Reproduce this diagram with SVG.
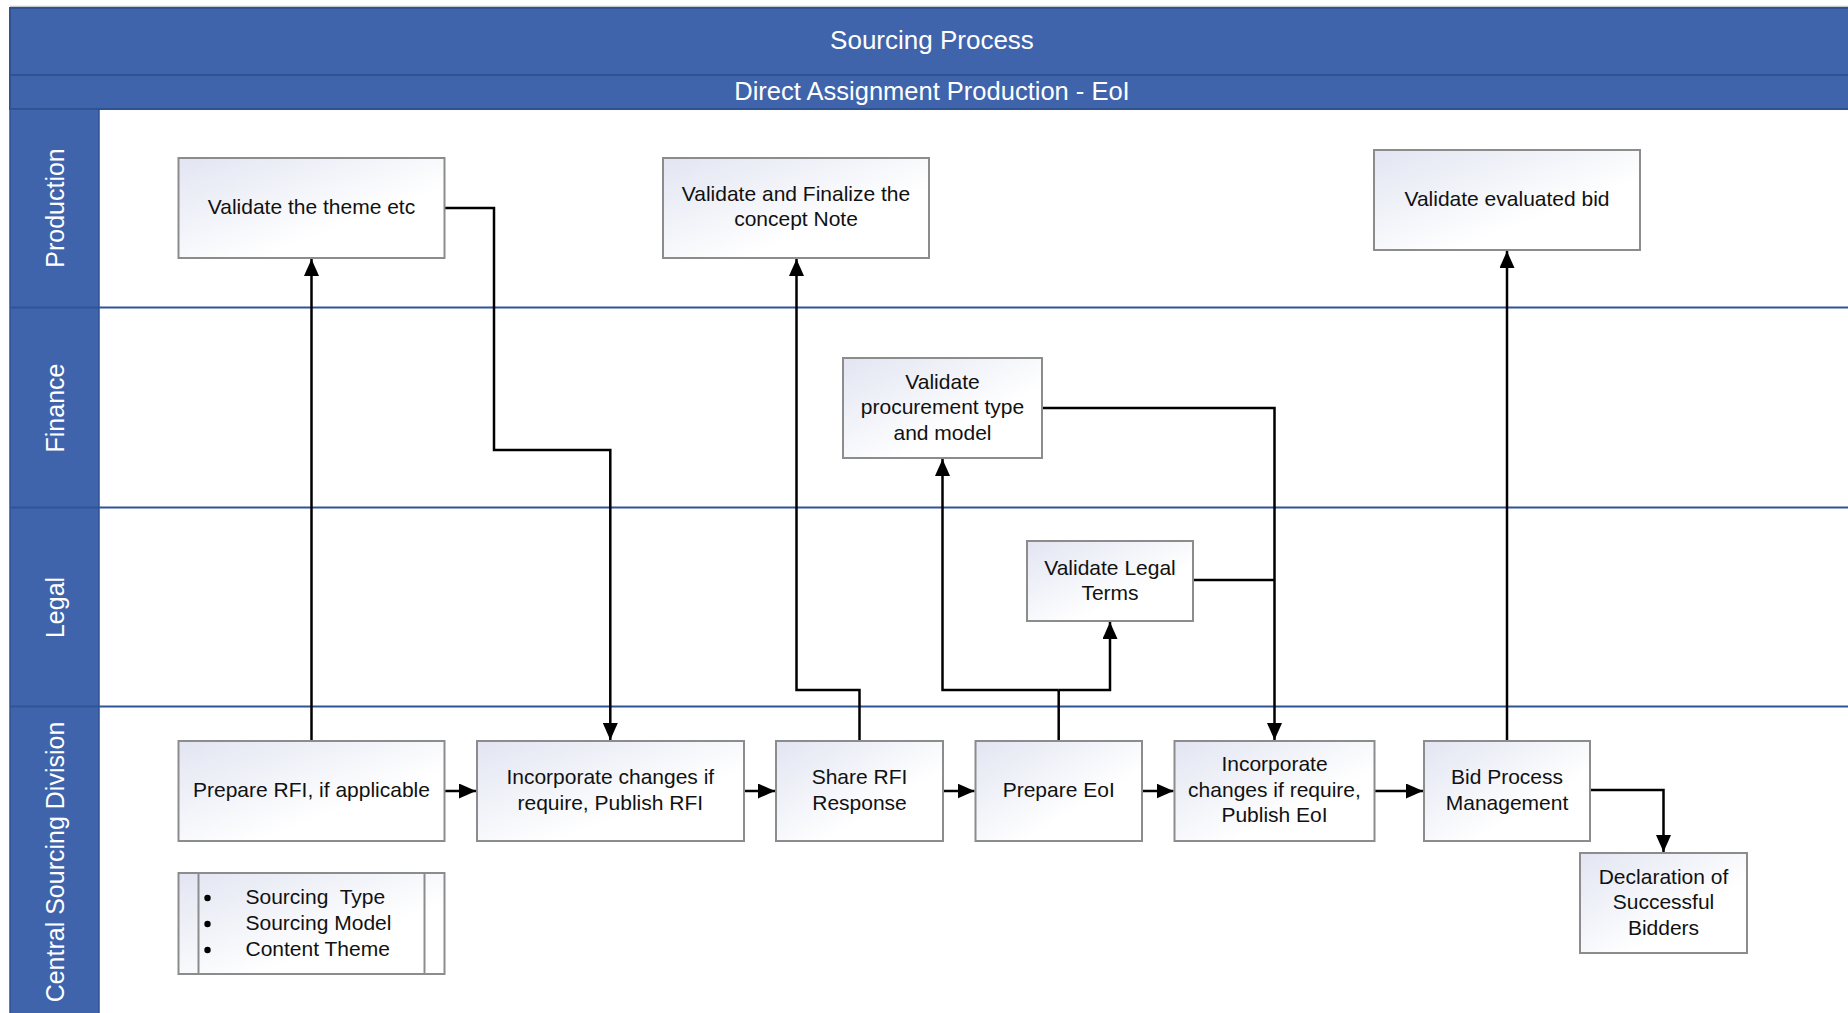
<svg xmlns="http://www.w3.org/2000/svg" width="1848" height="1013" viewBox="0 0 1848 1013">
  <style>
    .band { fill: #3F64AC; stroke: #2F5290; stroke-width: 2; }
    .band-text { font-family: "Liberation Sans", Arial, sans-serif; fill: #FFFFFF; text-anchor: middle; }
    .lane-label { font-family: "Liberation Sans", Arial, sans-serif; font-size: 25px; fill: #FFFFFF; text-anchor: middle; }
    .lane-line { stroke: #2F5597; stroke-width: 2; fill: none; }
    .box { fill: url(#boxFill); stroke: #8C8C8C; stroke-width: 2; }
    .label { font-family: "Liberation Sans", Arial, sans-serif; font-size: 21px; fill: #111111; text-anchor: middle; }
    .list { font-family: "Liberation Sans", Arial, sans-serif; font-size: 21px; fill: #111111; white-space: pre; }
    .conn { stroke: #000000; stroke-width: 2.5; fill: none; }
  </style>
  <defs>
    <linearGradient id="boxFill" x1="0" y1="0" x2="1" y2="1">
      <stop offset="0" stop-color="#E2E5F2"/>
      <stop offset="0.65" stop-color="#FFFFFF"/>
      <stop offset="1" stop-color="#FFFFFF"/>
    </linearGradient>
    <marker id="arrow" markerUnits="userSpaceOnUse" markerWidth="17" markerHeight="15" viewBox="0 0 17 15" refX="17" refY="7.5" orient="auto">
      <path d="M0,0 L17,7.5 L0,15 Z" fill="#000000"/>
    </marker>
  </defs>

  <rect width="1848" height="1013" fill="#FFFFFF"/>

  <!-- pool frame: title bands and lane header column -->
  <g id="pool">
    <line x1="10" y1="6.5" x2="1848" y2="6.5" stroke="#C3C7CE" stroke-width="1.5"/>
    <rect class="band" x="10" y="8" width="1850" height="67"/>
    <rect class="band" x="10" y="75" width="1850" height="34"/>
    <text class="band-text" x="932" y="48.5" font-size="26">Sourcing Process</text>
    <text class="band-text" x="932" y="99.5" font-size="25.5">Direct Assignment Production - EoI</text>
    <rect x="10" y="109" width="89" height="910" fill="#3F64AC" stroke="#2F5290" stroke-width="1.5"/>
  </g>

  <!-- swimlanes -->
  <g id="lanes">
    <line class="lane-line" x1="10" y1="307.5" x2="1848" y2="307.5"/>
    <line class="lane-line" x1="10" y1="507.5" x2="1848" y2="507.5"/>
    <line class="lane-line" x1="10" y1="706.5" x2="1848" y2="706.5"/>
    <text class="lane-label" transform="translate(64,208) rotate(-90)">Production</text>
    <text class="lane-label" transform="translate(64,408) rotate(-90)">Finance</text>
    <text class="lane-label" transform="translate(64,607.5) rotate(-90)">Legal</text>
    <text class="lane-label" transform="translate(64,862) rotate(-90)">Central Sourcing Division</text>
  </g>

  <!-- connectors -->
  <g id="connectors">
    <path class="conn" d="M311.5,741 V259" marker-end="url(#arrow)"/>
    <path class="conn" d="M444.5,208 H494 V450 H610.3 V740" marker-end="url(#arrow)"/>
    <path class="conn" d="M444.5,791 H476" marker-end="url(#arrow)"/>
    <path class="conn" d="M744,791 H775" marker-end="url(#arrow)"/>
    <path class="conn" d="M859.5,741 V690 H796.5 V259" marker-end="url(#arrow)"/>
    <path class="conn" d="M943,791 H974.5" marker-end="url(#arrow)"/>
    <path class="conn" d="M1058.7,741 V690"/>
    <path class="conn" d="M1058.7,690 H942.5 V459" marker-end="url(#arrow)"/>
    <path class="conn" d="M1058.7,690 H1110 V622" marker-end="url(#arrow)"/>
    <path class="conn" d="M1042,408 H1274.5 V740" marker-end="url(#arrow)"/>
    <path class="conn" d="M1193,580 H1274.5"/>
    <path class="conn" d="M1142,791 H1173.5" marker-end="url(#arrow)"/>
    <path class="conn" d="M1374.5,791 H1423" marker-end="url(#arrow)"/>
    <path class="conn" d="M1507,741 V251" marker-end="url(#arrow)"/>
    <path class="conn" d="M1590,790 H1663.5 V852" marker-end="url(#arrow)"/>
  </g>

  <!-- Production lane -->
  <g id="validate-theme">
    <rect class="box" x="178.5" y="158" width="266" height="100"/>
    <text class="label" x="311.5" y="213.5">Validate the theme etc</text>
  </g>
  <g id="validate-concept-note">
    <rect class="box" x="663" y="158" width="266" height="100"/>
    <text class="label" x="796" y="200.5">Validate and Finalize the</text>
    <text class="label" x="796" y="226">concept Note</text>
  </g>
  <g id="validate-evaluated-bid">
    <rect class="box" x="1374" y="150" width="266" height="100"/>
    <text class="label" x="1507" y="205.5">Validate evaluated bid</text>
  </g>

  <!-- Finance lane -->
  <g id="validate-procurement">
    <rect class="box" x="843" y="358" width="199" height="100"/>
    <text class="label" x="942.5" y="388.5">Validate</text>
    <text class="label" x="942.5" y="414">procurement type</text>
    <text class="label" x="942.5" y="439.5">and model</text>
  </g>

  <!-- Legal lane -->
  <g id="validate-legal-terms">
    <rect class="box" x="1027" y="541" width="166" height="80"/>
    <text class="label" x="1110" y="574.5">Validate Legal</text>
    <text class="label" x="1110" y="600">Terms</text>
  </g>

  <!-- Central Sourcing Division lane -->
  <g id="prepare-rfi">
    <rect class="box" x="178.5" y="741" width="266" height="100"/>
    <text class="label" x="311.5" y="796.5">Prepare RFI, if applicable</text>
  </g>
  <g id="publish-rfi">
    <rect class="box" x="477" y="741" width="267" height="100"/>
    <text class="label" x="610.3" y="784">Incorporate changes if</text>
    <text class="label" x="610.3" y="809.5">require, Publish RFI</text>
  </g>
  <g id="share-rfi-response">
    <rect class="box" x="776" y="741" width="167" height="100"/>
    <text class="label" x="859.5" y="784">Share RFI</text>
    <text class="label" x="859.5" y="809.5">Response</text>
  </g>
  <g id="prepare-eoi">
    <rect class="box" x="975.5" y="741" width="166.5" height="100"/>
    <text class="label" x="1058.7" y="796.5">Prepare EoI</text>
  </g>
  <g id="publish-eoi">
    <rect class="box" x="1174.5" y="741" width="200" height="100"/>
    <text class="label" x="1274.5" y="771">Incorporate</text>
    <text class="label" x="1274.5" y="796.5">changes if require,</text>
    <text class="label" x="1274.5" y="822">Publish EoI</text>
  </g>
  <g id="bid-process-management">
    <rect class="box" x="1424" y="741" width="166" height="100"/>
    <text class="label" x="1507" y="784">Bid Process</text>
    <text class="label" x="1507" y="809.5">Management</text>
  </g>
  <g id="declaration-successful-bidders">
    <rect class="box" x="1580" y="853" width="167" height="100"/>
    <text class="label" x="1663.5" y="883.5">Declaration of</text>
    <text class="label" x="1663.5" y="909">Successful</text>
    <text class="label" x="1663.5" y="934.5">Bidders</text>
  </g>
  <g id="sourcing-list">
    <rect class="box" x="178.5" y="873" width="266" height="101"/>
    <line x1="198.5" y1="873" x2="198.5" y2="974" stroke="#8C8C8C" stroke-width="2"/>
    <line x1="424.5" y1="873" x2="424.5" y2="974" stroke="#8C8C8C" stroke-width="2"/>
    <circle cx="207.5" cy="898" r="3.2" fill="#000000"/>
    <circle cx="207.5" cy="924" r="3.2" fill="#000000"/>
    <circle cx="207.5" cy="950" r="3.2" fill="#000000"/>
    <text class="list" x="245.5" y="904">Sourcing  Type</text>
    <text class="list" x="245.5" y="930">Sourcing Model</text>
    <text class="list" x="245.5" y="956">Content Theme</text>
  </g>
</svg>
